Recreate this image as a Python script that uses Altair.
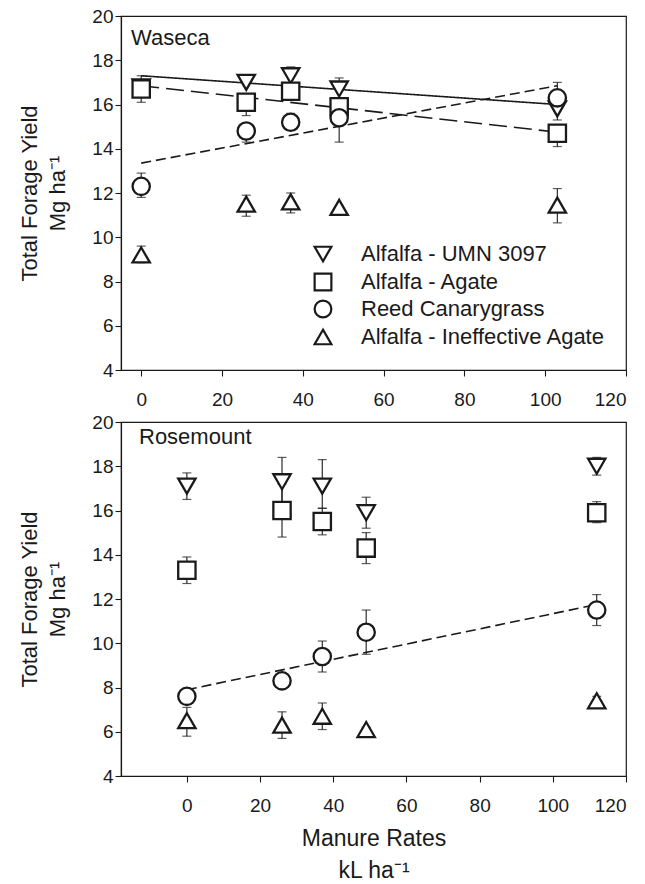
import altair as alt
import pandas as pd

series = ["Alfalfa - UMN 3097", "Alfalfa - Agate", "Reed Canarygrass", "Alfalfa - Ineffective Agate"]
shapes = ["triangle-down", "square", "circle", "triangle-up"]

# Waseca
x_was = [0, 26, 37, 49, 103]
was_umn = [16.8, 17.0, 17.3, 16.7, 15.8]
was_umn_lo = [16.8, 17.0, 17.3, 16.7, 15.3]
was_umn_hi = [16.8, 17.0, 17.7, 17.2, 15.8]
was_aga = [16.7, 16.1, 16.6, 15.9, 14.7]
was_aga_lo = [16.1, 15.5, 16.2, 15.9, 14.1]
was_aga_hi = [17.3, 16.1, 16.6, 15.9, 14.7]
was_rcg = [12.3, 14.8, 15.2, 15.4, 16.3]
was_rcg_lo = [11.8, 14.3, 15.2, 14.3, 16.3]
was_rcg_hi = [12.9, 14.8, 15.6, 15.4, 17.0]
was_ine = [9.2, 11.5, 11.6, 11.35, 11.45]
was_ine_lo = [8.85, 10.95, 11.1, 11.3, 10.65]
was_ine_hi = [9.6, 11.9, 12.0, 11.4, 12.2]

# Rosemount
x_ros = [0, 26, 37, 49, 112]
ros_umn = [17.1, 17.3, 17.1, 15.9, 18.0]
ros_umn_lo = [16.5, 16.2, 16.1, 15.2, 17.6]
ros_umn_hi = [17.7, 18.4, 18.3, 16.6, 18.4]
ros_aga = [13.3, 16.0, 15.5, 14.3, 15.9]
ros_aga_lo = [12.7, 14.8, 14.9, 13.6, 15.45]
ros_aga_hi = [13.9, 17.2, 16.1, 15.0, 16.4]
ros_rcg = [7.6, 8.3, 9.4, 10.5, 11.5]
ros_rcg_lo = [7.3, 8.1, 8.7, 9.5, 10.8]
ros_rcg_hi = [7.9, 8.5, 10.1, 11.5, 12.2]
ros_ine = [6.5, 6.3, 6.7, 6.1, 7.4]
ros_ine_lo = [5.8, 5.7, 6.1, 6.0, 7.3]
ros_ine_hi = [7.1, 6.9, 7.3, 6.2, 7.6]

# regression line end points
was_fit_x = [0, 103]
was_fit_umn = [17.3, 16.0]
was_fit_aga = [16.85, 14.75]
was_fit_rcg = [13.35, 16.85]
ros_fit_x = [0, 112]
ros_fit_rcg = [7.9, 11.75]

x_ticks = [0, 20, 40, 60, 80, 100, 120]
y_ticks = [4, 6, 8, 10, 12, 14, 16, 18, 20]

FONT = "Liberation Sans"
INK = "#1a1a1a"


def points_df(xs, groups):
    rows = []
    for name, (ys, lo, hi) in zip(series, groups):
        for x, y, l, h in zip(xs, ys, lo, hi):
            rows.append({"series": name, "x": x, "y": y, "lo": l, "hi": h})
    return pd.DataFrame(rows)


def fit_df(xs, fits):
    rows = []
    for name, ys in fits:
        for x, y in zip(xs, ys):
            rows.append({"series": name, "x": x, "y": y})
    return pd.DataFrame(rows)


dash_dom = series[:3]
dash_rng = [[1, 0], [18, 7], [10, 5]]


def legend_layers():
    layers = []
    row_y = [238, 266, 293, 321]
    for name, shp, yy in zip(series, shapes, row_y):
        d = pd.DataFrame({"t": [name]})
        layers.append(alt.Chart(d).mark_point(
            shape=shp, size=280, filled=False, fill="white", fillOpacity=1,
            stroke=INK, strokeWidth=2.2, opacity=1
        ).encode(x=alt.value(202), y=alt.value(yy)))
        layers.append(alt.Chart(d).mark_text(
            align="left", baseline="middle", fontSize=22, font=FONT, color=INK
        ).encode(text="t:N", x=alt.value(240), y=alt.value(yy)))
    return layers


def panel(pts, fits, xdomain, label, label_xy, show_legend, xtitle):
    xs = alt.Scale(domain=xdomain, nice=False, zero=False)
    ys = alt.Scale(domain=[4, 20], nice=False, zero=False)
    xaxis = alt.Axis(values=x_ticks, title=xtitle, labelPadding=14,
                     titlePadding=12, titleFontSize=23, titleLineHeight=32)
    yaxis = alt.Axis(values=y_ticks, title=["Total Forage Yield", "Mg ha⁻¹"],
                     titlePadding=22, titleFontSize=22, titleLineHeight=28)
    X = alt.X("x:Q", scale=xs, axis=xaxis)
    Y = alt.Y("y:Q", scale=ys, axis=yaxis)

    lines = alt.Chart(fits).mark_line(color=INK, strokeWidth=1.6).encode(
        x=alt.X("x:Q", scale=xs), y=alt.Y("y:Q", scale=ys),
        strokeDash=alt.StrokeDash("series:N", scale=alt.Scale(domain=dash_dom, range=dash_rng), legend=None),
        detail="series:N",
    )
    rules = alt.Chart(pts).mark_rule(color=INK, strokeWidth=1.1).encode(
        x=alt.X("x:Q", scale=xs), y=alt.Y("lo:Q", scale=ys), y2="hi:Q"
    )
    cap_lo = alt.Chart(pts).mark_tick(color=INK, thickness=1.2, size=9, orient="horizontal").encode(
        x=alt.X("x:Q", scale=xs), y=alt.Y("lo:Q", scale=ys)
    )
    cap_hi = alt.Chart(pts).mark_tick(color=INK, thickness=1.2, size=9, orient="horizontal").encode(
        x=alt.X("x:Q", scale=xs), y=alt.Y("hi:Q", scale=ys)
    )
    marks = alt.Chart(pts).mark_point(filled=False, fill="white", fillOpacity=1, stroke=INK,
                                      strokeWidth=2.3, size=300, opacity=1).encode(
        x=X, y=Y,
        shape=alt.Shape("series:N", scale=alt.Scale(domain=series, range=shapes), legend=None),
    )
    txt = alt.Chart(pd.DataFrame({"t": [label]})).mark_text(
        align="left", baseline="middle", fontSize=22, font=FONT, color=INK
    ).encode(text="t:N", x=alt.value(label_xy[0]), y=alt.value(label_xy[1]))
    layers = [lines, rules, cap_lo, cap_hi, marks, txt]
    if show_legend:
        layers += legend_layers()
    return alt.layer(*layers).properties(width=505, height=354)


was_pts = points_df(x_was, [(was_umn, was_umn_lo, was_umn_hi), (was_aga, was_aga_lo, was_aga_hi),
                            (was_rcg, was_rcg_lo, was_rcg_hi), (was_ine, was_ine_lo, was_ine_hi)])
ros_pts = points_df(x_ros, [(ros_umn, ros_umn_lo, ros_umn_hi), (ros_aga, ros_aga_lo, ros_aga_hi),
                            (ros_rcg, ros_rcg_lo, ros_rcg_hi), (ros_ine, ros_ine_lo, ros_ine_hi)])
was_fit = fit_df(was_fit_x, [(series[0], was_fit_umn), (series[1], was_fit_aga), (series[2], was_fit_rcg)])
ros_fit = fit_df(ros_fit_x, [(series[2], ros_fit_rcg)])

top = panel(was_pts, was_fit, [-5, 120], "Waseca", (10, 22), True, None)
bottom = panel(ros_pts, ros_fit, [-18, 120], "Rosemount", (18, 15), False, ["Manure Rates", "kL ha⁻¹"])

chart = alt.vconcat(top, bottom, spacing=52, bounds="flush").resolve_scale(
    shape="independent", strokeDash="independent"
).properties(
    padding={"left": 18, "top": 6, "right": 0, "bottom": 0},
    background="white",
).configure_view(stroke=INK, strokeWidth=1.2).configure_axis(
    grid=False, domainColor=INK, tickColor=INK, tickSize=6, tickWidth=1.1, domainWidth=1.2,
    labelFont=FONT, titleFont=FONT, labelFontSize=19, labelColor=INK, titleColor=INK,
    titleFontWeight="normal",
)

chart.save("out.html", embed_options={"renderer": "svg", "actions": False})
